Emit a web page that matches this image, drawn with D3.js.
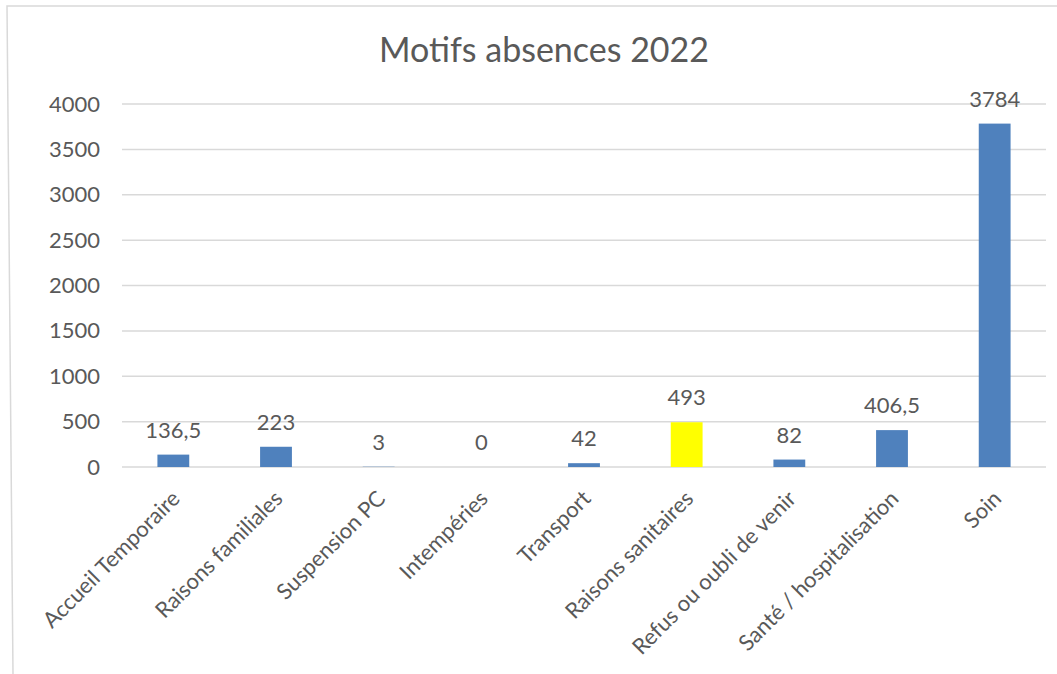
<!DOCTYPE html>
<html>
<head>
<meta charset="utf-8">
<script src="https://cdn.jsdelivr.net/npm/d3@7"></script>
<style>
  body { margin: 0; background: #fff; }
  text { font-family: Lato, 'Open Sans', sans-serif; fill: #595959; }
</style>
</head>
<body>
<svg width="1057" height="674"></svg>
<script>

let categories = ['Accueil Temporaire', 'Raisons familiales', 'Suspension PC', 'Intempéries',
                  'Transport', 'Raisons sanitaires', 'Refus ou oubli de venir',
                  'Santé / hospitalisation', 'Soin'];
let values = [136.5, 223, 3, 0, 42, 493, 82, 406.5, 3784];
let highlighted = ['Raisons sanitaires'];
let yTicks = [0, 500, 1000, 1500, 2000, 2500, 3000, 3500, 4000];

let svg = d3.select('svg');
let margin = { top: 104, right: 11, bottom: 207, left: 122 };
let width = +svg.attr('width');
let height = +svg.attr('height');

// chart frame
svg.append('path')
    .attr('d', 'M1057,6 L7,6 L13,674')
    .attr('fill', 'none')
    .attr('stroke', '#d9d9d9')
    .attr('stroke-width', 1.5);

svg.append('text')
    .attr('x', 544)
    .attr('y', 62)
    .attr('text-anchor', 'middle')
    .style('font-size', '34px')
    .text('Motifs absences 2022');

let x = d3.scaleBand()
    .domain(categories)
    .range([margin.left, width - margin.right]);

let y = d3.scaleLinear()
    .domain([0, 4000])
    .range([height - margin.bottom, margin.top]);

// gridlines
svg.append('g')
    .selectAll('line')
    .data(yTicks)
    .enter().append('line')
    .attr('x1', margin.left)
    .attr('x2', width - margin.right)
    .attr('y1', d => y(d))
    .attr('y2', d => y(d))
    .attr('stroke', '#d9d9d9')
    .attr('stroke-width', 1.5);

// y axis labels
let yAxis = svg.append('g')
    .attr('transform', 'translate(' + (margin.left - 22) + ',0)')
    .call(d3.axisLeft(y).tickValues(yTicks).tickFormat(d3.format('d')).tickSize(0).tickPadding(0));
yAxis.select('.domain').remove();
yAxis.selectAll('text')
    .style('font-size', '22px')
    .style('font-family', 'Lato, sans-serif')
    .attr('fill', '#595959');

let barW = x.bandwidth() * 0.31;

svg.append('g')
    .selectAll('rect')
    .data(values)
    .enter().append('rect')
    .attr('x', (d, i) => x(categories[i]) + (x.bandwidth() - barW) / 2)
    .attr('y', d => y(d))
    .attr('width', barW)
    .attr('height', d => y(0) - y(d))
    .attr('fill', (d, i) => highlighted.includes(categories[i]) ? '#ffff00' : '#4f81bd');

// data labels
svg.append('g')
    .selectAll('text')
    .data(values)
    .enter().append('text')
    .attr('x', (d, i) => x(categories[i]) + x.bandwidth() / 2)
    .attr('y', d => y(d) - 17)
    .attr('text-anchor', 'middle')
    .style('font-size', '22px')
    .text(d => String(d).replace('.', ','));

// category labels
let xAxis = svg.append('g')
    .attr('transform', 'translate(0,' + y(0) + ')')
    .call(d3.axisBottom(x).tickSize(0).tickPadding(0));
xAxis.select('.domain').remove();
xAxis.selectAll('text')
    .attr('text-anchor', 'end')
    .attr('dy', 0)
    .attr('transform', 'translate(8,33) rotate(-45)')
    .style('font-size', '22px')
    .style('font-family', 'Lato, sans-serif')
    .attr('fill', '#595959');

</script>
</body>
</html>
